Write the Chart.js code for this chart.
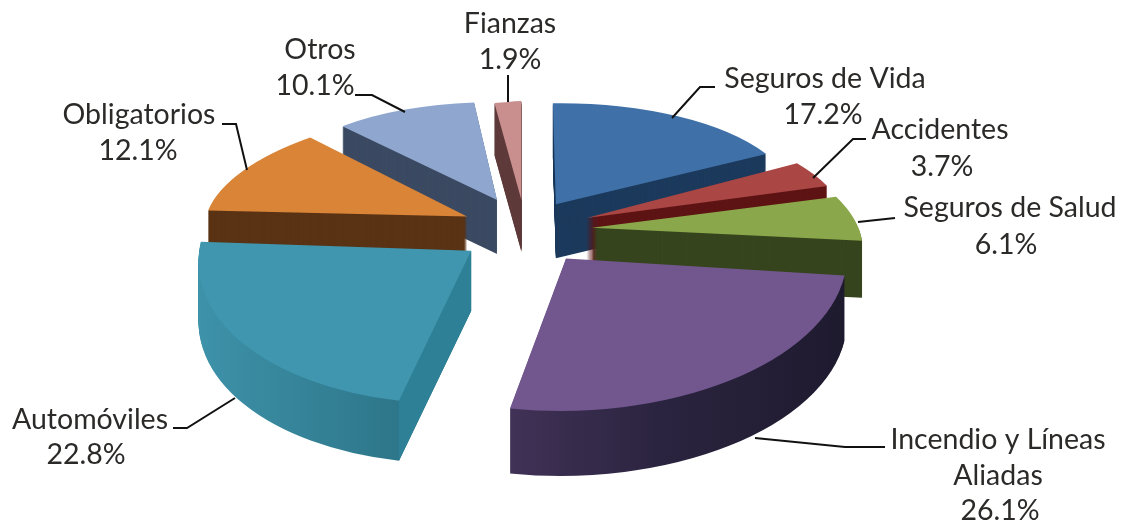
<!DOCTYPE html>
<html><head><meta charset="utf-8">
<style>html,body{margin:0;padding:0;background:#fff}canvas{display:block}</style>
<script src="https://cdn.jsdelivr.net/npm/chart.js@4/dist/chart.umd.min.js"></script>
</head><body>
<canvas id="c" width="1125" height="523"></canvas>
<script>
const categories = ['Seguros de Vida','Accidentes','Seguros de Salud','Incendio y Líneas Aliadas','Automóviles','Obligatorios','Otros','Fianzas'];
const shares = [17.2,3.7,6.1,26.1,22.8,12.1,10.1,1.9];
const topColors = ['#3F70A8','#AA4644','#8AA84B','#71578D','#3F96AE','#D98437','#8FA6CE','#C98E8E'];
const wallColors = [['#1C3A5C'],['#5E1414'],['#36451E'],['#4A385E','#46355C','#2B2440','#1E1A2E'],['#3E93AA','#2A6F82','#2A6F82'],['#5A3315'],['#3B4A62'],['#5F3B3B']];
const cutFaceColors = [null,null,null,null,'#2E8096',null,null,null];
const explode = [60,66,67,70,68,64,66,60];
const depths = [54,54,57,65,60,54,54,52];
// per-slice perspective matrix [a, s, t, b]
const perspective = [[240,3,-3,101],[259,38,-4.5,108],[266,51,-1.5,116],[281,-1.6,-2,152.5],[272,-20,0.4,153],[261,-30,-0.1,108.5],[231,-4.6,3.4,98],[227,0,-11,99]];
const drawOrder = [7,6,0,1,5,2,4,3];
const tilt = 0.5;
// label lines: [text, x, y]
const labelLines = [
 [['Seguros de Vida',825,79],['17.2%',823,115]],
 [['Accidentes',940,130],['3.7%',942,167]],
 [['Seguros de Salud',1010,208],['6.1%',1006,245]],
 [['Incendio y Líneas',998,440],['Aliadas',998,476],['26.1%',1000,511]],
 [['Automóviles',90,420],['22.8%',86,455]],
 [['Obligatorios',139,115],['12.1%',138,151]],
 [['Otros',320,50],['10.1%',315,86]],
 [['Fianzas',510,24],['1.9%',510,60]]
];
const leaders = [
 [[715,87],[700,87],[672,118]],
 [[866,139],[853,139],[813,178]],
 [[895,218],[858,222]],
 [[885,447],[845,447],[755,438]],
 [[173,428],[187,428],[235,398]],
 [[222,124],[236,124],[247,170]],
 [[355,95],[372,95],[405,112]],
 [[508,75],[508,102]]
];

const pie3d = {
  id:'pie3d',
  beforeDatasetsDraw(chart){
    const ctx = chart.ctx, arcs = chart.getDatasetMeta(0).data;
    for (const i of drawOrder){
      const arc = arcs[i], o = arc.options, off = explode[i];
      const mid = (arc.startAngle+arc.endAngle)/2;
      const R = arc.outerRadius;
      const S = {x:arc.x+Math.cos(mid)*off, y:arc.y+Math.sin(mid)*off*tilt};
      const [a,s,t,b] = perspective[i];
      const place = d => { ctx.translate(S.x,S.y+d); ctx.transform(a/R,t/R,s/R,b/R,0,0); ctx.translate(-arc.x,-arc.y); };
      const paint = (d,fill) => {
        ctx.save(); place(d);
        arc.options = Object.assign({},o,{backgroundColor:fill});
        arc.draw(ctx);
        arc.options = o;
        ctx.restore();
      };
      const stops = wallColors[i];
      let wall = stops[0];
      if (stops.length>1){
        wall = ctx.createLinearGradient(arc.x-R,0,arc.x+R,0);
        stops.forEach((c,k)=>wall.addColorStop(k/(stops.length-1),c));
      }
      for (let d=depths[i]; d>=1; d--) paint(d,wall);
      if (cutFaceColors[i]){
        const u=Math.cos(arc.startAngle), v=Math.sin(arc.startAngle);
        const px=S.x+a*u+s*v, py=S.y+t*u+b*v, dd=depths[i];
        ctx.fillStyle=cutFaceColors[i];
        ctx.beginPath();ctx.moveTo(S.x,S.y);ctx.lineTo(px,py);ctx.lineTo(px,py+dd);ctx.lineTo(S.x,S.y+dd);ctx.closePath();ctx.fill();
      }
      paint(0,o.backgroundColor);
    }
    // leaders
    ctx.save();
    ctx.strokeStyle='#111';ctx.lineWidth=2;ctx.lineJoin='miter';
    leaders.forEach(l=>{ctx.beginPath();l.forEach((p,k)=>k?ctx.lineTo(p[0],p[1]):ctx.moveTo(p[0],p[1]));ctx.stroke();});
    // labels
    ctx.fillStyle='#2b2a29';ctx.font='28.5px Lato';ctx.textAlign='center';ctx.textBaseline='middle';
    labelLines.forEach(ls=>ls.forEach(([txt,x,y])=>ctx.fillText(txt,x,y)));
    ctx.restore();
    return false;
  }
};

new Chart(document.getElementById('c'),{
  type:'pie',
  data:{labels:categories,datasets:[{data:shares,backgroundColor:topColors,borderWidth:0}]},
  options:{
    responsive:false,animation:false,radius:240,
    layout:{padding:{right:75,bottom:63}},
    plugins:{legend:{display:false},tooltip:{enabled:false}},
    events:[]
  },
  plugins:[pie3d]
});
</script>
</body></html>
